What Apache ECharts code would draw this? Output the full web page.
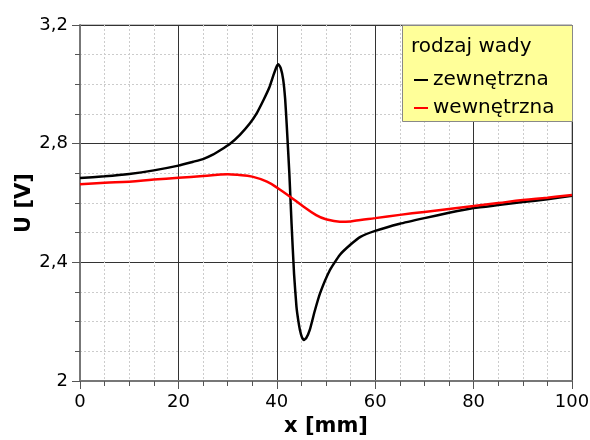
<!DOCTYPE html>
<html><head><meta charset="utf-8">
<script src="https://cdn.jsdelivr.net/npm/echarts@6/dist/echarts.min.js"></script>
<style>html,body{margin:0;padding:0;background:#fff}#c{width:590px;height:440px}</style>
</head><body><div id="c"></div>
<script>
const xTicks = [0, 20, 40, 60, 80, 100];
const yTicks = ['2', '2,4', '2,8', '3,2'];
const seriesNames = ['zewnętrzna', 'wewnętrzna'];
const legendTitle = 'rodzaj wady';
const outerX = [0, 5, 10, 15, 20, 23, 25, 27, 28.5, 30.5, 32.5, 34.5, 36, 37.3, 38.5, 39.3, 39.9, 40.3, 40.8, 41.3, 41.7, 42.0, 42.55, 43.0, 43.5, 44.0, 44.4, 44.7, 45.1, 45.5, 46.0, 46.7, 47.7, 48.8, 50.8, 52.8, 55, 57, 60, 65, 70, 75, 80, 85, 90, 95, 100];
const outerU = [2.684, 2.69, 2.698, 2.71, 2.726, 2.739, 2.748, 2.763, 2.778, 2.80, 2.83, 2.868, 2.905, 2.947, 2.99, 3.03, 3.058, 3.068, 3.055, 3.016, 2.95, 2.868, 2.70, 2.53, 2.363, 2.25, 2.20, 2.172, 2.148, 2.138, 2.145, 2.172, 2.235, 2.296, 2.374, 2.425, 2.46, 2.486, 2.506, 2.53, 2.549, 2.567, 2.583, 2.593, 2.603, 2.613, 2.624];
const innerX = [0, 5, 10, 15, 20, 25, 30, 32, 35, 38, 40.3, 42.7, 45, 48, 50, 52.8, 55, 57, 60, 65, 70, 75, 80, 85, 90, 95, 100];
const innerU = [2.663, 2.668, 2.672, 2.679, 2.685, 2.691, 2.697, 2.695, 2.689, 2.672, 2.649, 2.621, 2.593, 2.559, 2.545, 2.537, 2.538, 2.543, 2.549, 2.56, 2.570, 2.58, 2.590, 2.60, 2.610, 2.618, 2.627];

const pair = (xs, ys) => xs.map((x, i) => [x, ys[i]]);
const font = 'DejaVu Sans';
const chart = echarts.init(document.getElementById('c'), null, {renderer: 'canvas'});
chart.setOption({
  animation: false,
  grid: {left: 80, right: 18, top: 25, bottom: 59, show: true, borderColor: '#888', borderWidth: 1,
         containLabel: false, outerBoundsMode: 'none'},
  xAxis: {
    type: 'value', min: 0, max: 100, interval: 20,
    name: 'x [mm]', nameLocation: 'middle', nameGap: 35, nameMoveOverlap: false,
    nameTextStyle: {fontFamily: font, fontSize: 21, fontWeight: 'bold', color: '#000'},
    axisLine: {show: true, lineStyle: {color: '#777', width: 2}},
    axisTick: {show: true, length: 8, lineStyle: {color: '#555'}},
    minorTick: {show: true, splitNumber: 4, length: 5, lineStyle: {color: '#555'}},
    axisLabel: {fontFamily: font, fontSize: 18, color: '#000', margin: 12,
      formatter: v => xTicks.includes(v) ? String(v) : ''},
    splitLine: {show: true, lineStyle: {color: '#333', width: 1}},
    minorSplitLine: {show: true, lineStyle: {color: '#ccc', type: [2, 2], width: 1}}
  },
  yAxis: {
    type: 'value', min: 2, max: 3.2, interval: 0.4,
    name: 'U [V]', nameLocation: 'middle', nameGap: 45, nameRotate: 90, nameMoveOverlap: false,
    nameTextStyle: {fontFamily: font, fontSize: 21, fontWeight: 'bold', color: '#000'},
    axisLine: {show: true, lineStyle: {color: '#777', width: 2}},
    axisTick: {show: true, length: 8, lineStyle: {color: '#555'}},
    minorTick: {show: true, splitNumber: 4, length: 5, lineStyle: {color: '#555'}},
    axisLabel: {fontFamily: font, fontSize: 18, color: '#000', margin: 12,
      formatter: v => yTicks[Math.round((v - 2) / 0.4)]},
    splitLine: {show: true, lineStyle: {color: '#333', width: 1}},
    minorSplitLine: {show: true, lineStyle: {color: '#ccc', type: [2, 2], width: 1}}
  },
  legend: {
    orient: 'vertical', left: 409, top: 65, itemGap: 8, z: 20,
    icon: 'rect', itemWidth: 14, itemHeight: 2,
    textStyle: {fontFamily: font, fontSize: 20, color: '#000'},
    data: seriesNames
  },
  graphic: [
    {type: 'rect', left: 402, top: 25, z: 3, shape: {width: 170, height: 96},
     style: {fill: '#ffff99', stroke: '#888', lineWidth: 1}},
    {type: 'text', left: 411, top: 37, z: 4,
     style: {text: legendTitle, fontFamily: font, fontSize: 20, fill: '#000'}}
  ],
  series: [
    {name: seriesNames[0], type: 'line', data: pair(outerX, outerU), showSymbol: false, smooth: 0.15,
     lineStyle: {color: '#000', width: 2.5}, itemStyle: {color: '#000'}},
    {name: seriesNames[1], type: 'line', data: pair(innerX, innerU), showSymbol: false, smooth: 0.4,
     lineStyle: {color: '#ff0000', width: 2.5}, itemStyle: {color: '#ff0000'}}
  ]
});
</script></body></html>
